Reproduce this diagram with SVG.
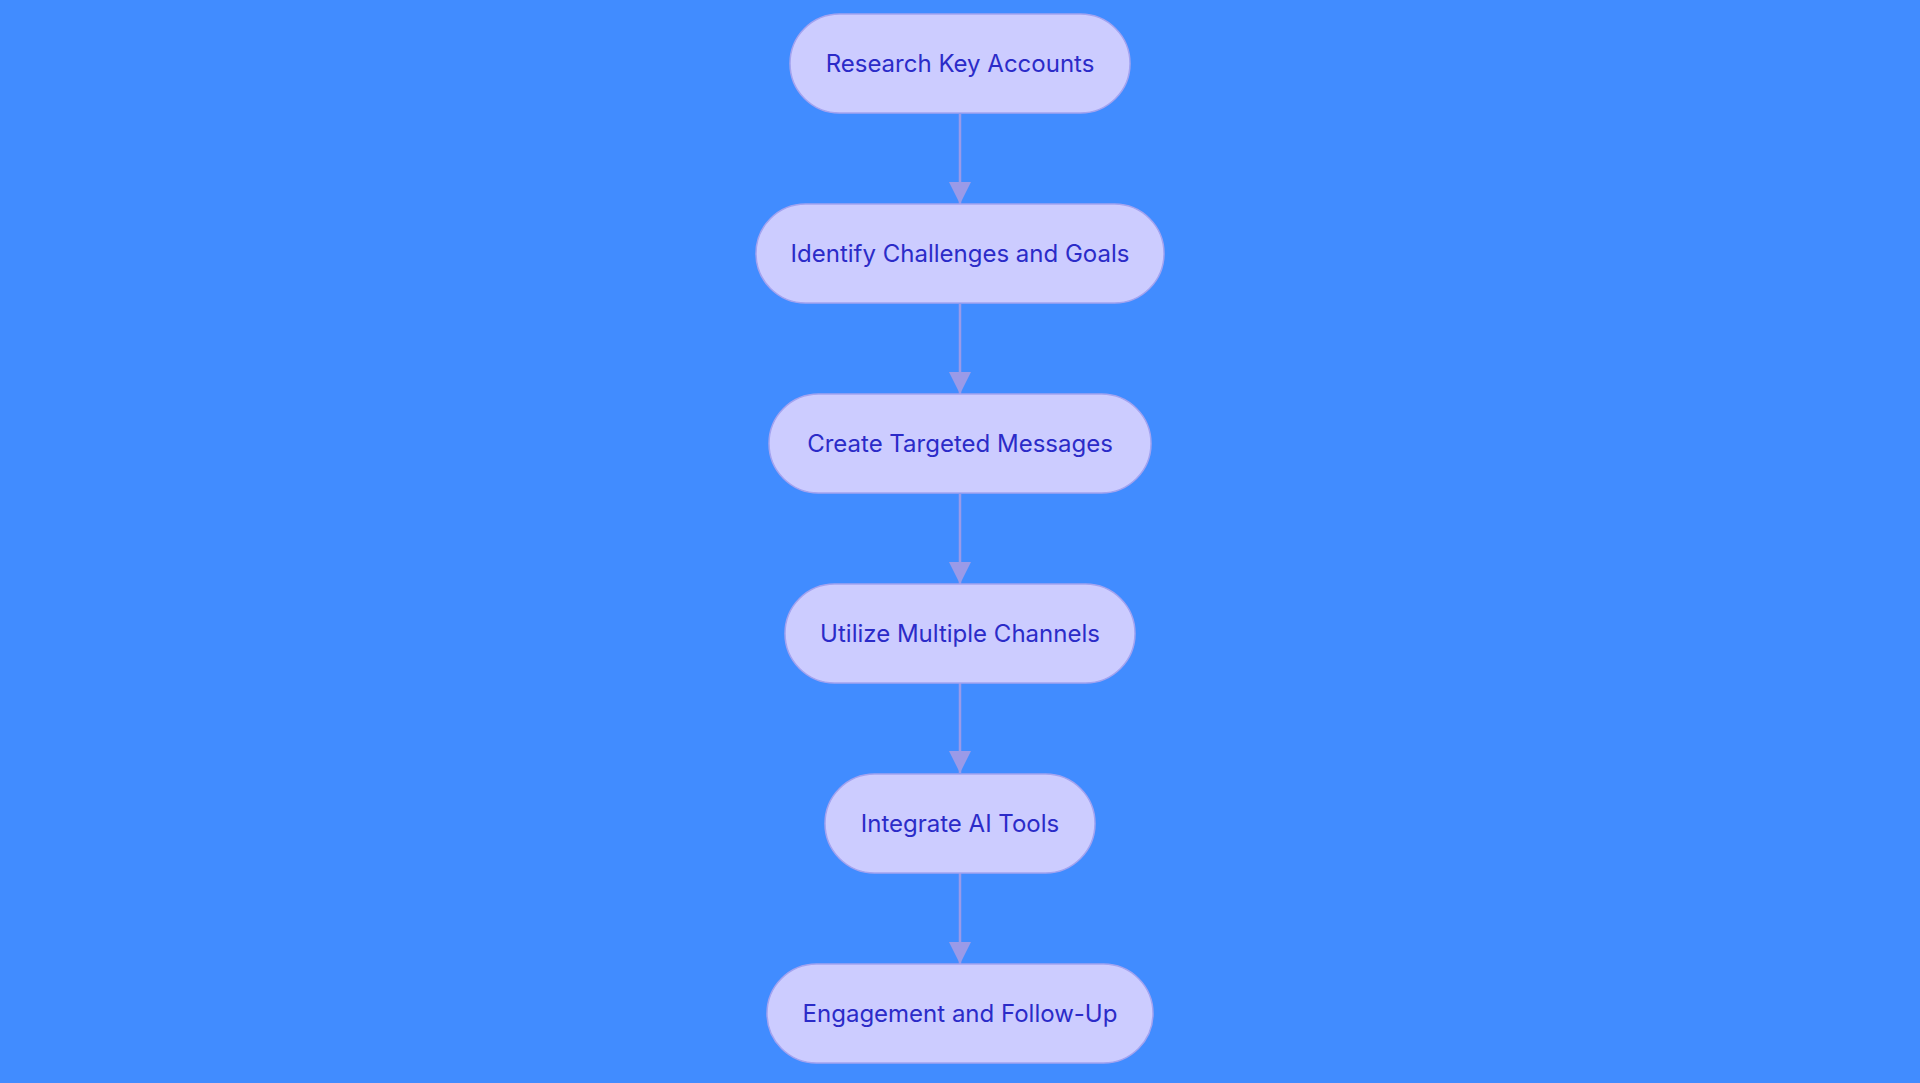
<svg xmlns="http://www.w3.org/2000/svg" width="1920" height="1083" viewBox="0 0 1920 1083">
<style>
.n rect{fill:#CCCCFF;stroke:#A3A3F0;stroke-width:1.5}
.n text{font-family:Inter,"Noto Sans",sans-serif;font-size:24px;fill:#2B2BC8;text-anchor:middle;dominant-baseline:central}
.e line{stroke:#9A9AE8;stroke-width:2.5}
</style>
<defs><marker id="a" viewBox="0 0 10 10" refX="10" refY="5" markerWidth="9" markerHeight="9" markerUnits="userSpaceOnUse" orient="auto"><path d="M0,0L10,5L0,10z" fill="#9A9AE8"/></marker>
<marker id="b" viewBox="0 0 10 10" refX="10" refY="5" markerWidth="22" markerHeight="22" markerUnits="userSpaceOnUse" orient="auto"><path d="M0,0L10,5L0,10z" fill="#9A9AE8"/></marker></defs>
<rect width="1920" height="1083" fill="#418CFF"/>
<g class="e">
<line x1="960" y1="114" x2="960" y2="204" marker-end="url(#b)"/>
<line x1="960" y1="304" x2="960" y2="394" marker-end="url(#b)"/>
<line x1="960" y1="494" x2="960" y2="584" marker-end="url(#b)"/>
<line x1="960" y1="683" x2="960" y2="773" marker-end="url(#b)"/>
<line x1="960" y1="873" x2="960" y2="964" marker-end="url(#b)"/>
</g>
<g class="n" id="n1"><rect x="790" y="14" width="340" height="99" rx="49.5"/><text x="960" y="63">Research Key Accounts</text></g>
<g class="n" id="n2"><rect x="756" y="204" width="408" height="99" rx="49.5"/><text x="960" y="253">Identify Challenges and Goals</text></g>
<g class="n" id="n3"><rect x="769" y="394" width="382" height="99" rx="49.5"/><text x="960" y="443">Create Targeted Messages</text></g>
<g class="n" id="n4"><rect x="785" y="584" width="350" height="99" rx="49.5"/><text x="960" y="633">Utilize Multiple Channels</text></g>
<g class="n" id="n5"><rect x="825" y="774" width="270" height="99" rx="49.5"/><text x="960" y="823">Integrate AI Tools</text></g>
<g class="n" id="n6"><rect x="767" y="964" width="386" height="99" rx="49.5"/><text x="960" y="1013">Engagement and Follow-Up</text></g>
</svg>
